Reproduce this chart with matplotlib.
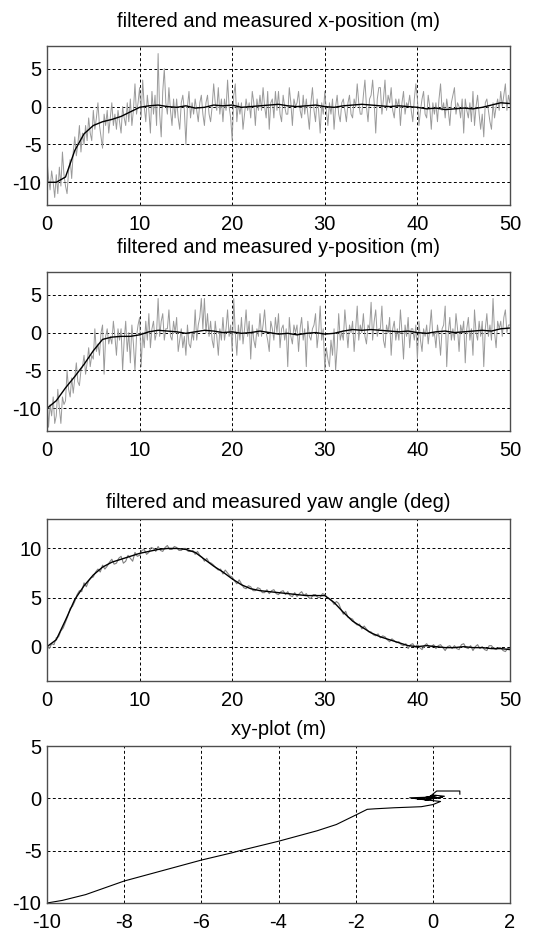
import numpy as np
import matplotlib
matplotlib.use('Agg')
import matplotlib.pyplot as plt

plt.rcParams['font.family'] = ['Liberation Sans', 'DejaVu Sans']
plt.rcParams['axes.unicode_minus'] = False

T_END = 50  # s

# measured x-position (m), 6 samples per second (one row = one second)
x_meas = [
    -7, -9.5, -11, -8.5, -10, -12,
    -9, -11.5, -8, -10.5, -6, -9,
    -10.5, -11.5, -8.5, -7, -9.5, -6,
    -4, -6.5, -5, -2.5, -6, -3.5,
    -5, -2.5, -4.5, -1.5, -3.5, -4.5,
    -0.5, -3, -1.5, 0.5, -2.5, -4,
    -5.5, -1, -2.5, -0.5, -3.5, -1.5,
    0.5, -2.5, -1, -3, -0.5, -2,
    -3.5, 0, -1.5, -2.5, 0.5, -2,
    1, -2.5, -0.5, 3, -1, 0.5,
    2.5, -1.5, 3.5, 0, -2, 1.5,
    -0.5, -3.5, 2, -1, 1.5, -2.5,
    7, -1, -4, 2, 5, 0.5,
    -1, 2.5, -0.5, -2.5, 1, -1.5,
    1, -1.5, -3, 0.5, 1.5, -0.5,
    -5, 0, 2, -1.5, 0.5, -1,
    1, -0.5, -2, 0.5, 1.5, -1,
    -2.5, 0.5, 1.5, -1, -2, 0,
    3, 0.5, -0.5, 2.5, -1, 1,
    -2, 1, -0.5, 3.5, 0, -1.5,
    -4.5, 1.5, 3, -2, 0.5, -1,
    0.5, -3, -1, 1, -0.5, 0.5,
    -1.5, 2, 0.5, -2.5, 1, -0.5,
    1.5, -0.5, 2.5, 0, -1.5, 2,
    -3, 0.5, 1, -1.5, 2, -0.5,
    2, -1, -2, 1.5, 0, -1,
    -1, 2.5, 0.5, -2.5, 1, 0,
    0.5, 2, -0.5, -1.5, 1.5, -1,
    1, -1, -3, 0.5, 2.5, -0.5,
    -2, 1, -0.5, -3.5, 0.5, -1,
    2, -0.5, -2.5, 0.5, -1, 1,
    -3, 0, 1.5, -1, -2, 0.5,
    1, -0.5, -2, 0.5, 1.5, -1,
    -1.5, 1, 0, 3, 0.5, -1,
    -1, 1.5, 3.5, 0, -2, 1,
    1.5, 3.5, 0.5, -3.5, 1, 2.5,
    2.5, -1, 1, 3.5, -0.5, 1.5,
    0.5, 2.5, -0.5, -1.5, 1, 0,
    1, -2.5, 0.5, 2, -1, 0.5,
    0, 1.5, -0.5, -2, 1, 3,
    1, -2.5, -0.5, 1, 2, -1,
    -1.5, 1.5, 0, -3, 0.5, -1,
    0.5, -2, 1, 3, -0.5, 0.5,
    -1.5, 1, -0.5, -2.5, 0.5, 1.5,
    2.5, -1, 0.5, 0, -1.5, 1,
    -3.5, 1, -0.5, -1.5, 0.5, -2,
    2, -2.5, 0, 1.5, -1, -3,
    -1, -4, 0.5, 1, -0.5, -2,
    -3, 0.5, -1.5, 0, 1, -0.5,
    2, 0, 1.5, 3, -0.5, 1.5,
    0.5,
]

# filtered x-position (m), 1 sample per second
x_filt = [
    -10, -10, -9.3, -5.8, -3.6, -2.5, -2.0, -1.7, -1.3, -0.7,
    -0.1, 0.1, 0.2, 0, -0.1, 0.1, -0.2, -0.1, 0.2, 0.1,
    0.2, -0.1, 0, 0.1, 0.2, 0.3, 0.1, 0, 0.1, 0.2,
    0, -0.1, 0.1, 0.2, 0.3, 0.2, 0.1, 0, 0.1, 0,
    -0.1, -0.3, -0.2, -0.4, -0.3, -0.2, -0.3, -0.1, 0.2, 0.5,
    0.4,
]

# measured y-position (m), 6 samples per second
y_meas = [
    -8, -12.5, -9.5, -11, -8.5, -12,
    -11, -7.5, -10, -12, -8.5, -9.5,
    -9, -5, -7.5, -8.5, -6, -8,
    -6, -4, -6.5, -7, -5, -4.5,
    -3, -5.5, -4, -2, -4.5, -3,
    -3.5, 0.5, -2.5, -1.5, -3, 0,
    1, -5.5, -0.5, 0.5, -1.5, -0.5,
    -1.5, 1.5, -0.5, -3, 0.5, -1,
    0.5, -5, -1, 1.5, -2.5, 0,
    -4, 1, -1.5, -5, -0.5, 1,
    2, -4.5, 0, -2, 1.5, -1,
    2.5, -2, 0.5, 1.5, -1, 0,
    4.5, -0.5, 1.5, 2.5, -1, 0.5,
    0.5, 3, -0.5, -1, 1.5, 0,
    2, -2.5, -1, 0.5, -2, -0.5,
    -3, 1, -1.5, -2, 0, -1,
    3, -1, 1, 2, 4.5, 0.5,
    4.5, 0, 2.5, -0.5, 1.5, -1,
    -2, 1.5, -0.5, -3, 0.5, -1,
    2, -1, 0.5, 3, -0.5, 1,
    -2.5, 4.5, 0, -3, 1, -1,
    2, -1.5, 0.5, 3, -0.5, 1.5,
    -3.5, 1, -1, -2, 0.5, -0.5,
    2.5, -0.5, 1, 3, 0, -1,
    -2.5, 1.5, 0.5, -1, 2, 0,
    2.5, -2, 0.5, 1, -1, 0.5,
    -4.5, 2, -0.5, -1.5, 1, 0,
    1, -2.5, 0.5, 2, -1, 0.5,
    -4.5, 1.5, -0.5, -1, 0.5, 1,
    2.5, -2, 0, 3.5, -1, 0.5,
    -5, -2, -3.5, -4.5, -1, -3,
    0.5, -5, -2, 2.5, -1, 0,
    -1, 3, 0.5, -2, 1, 0,
    1.5, -2.5, 0.5, 3.5, -1, 1,
    0, 2.5, -0.5, -1.5, 1, 0.5,
    4, -1, 1.5, 3, -0.5, 0.5,
    0.5, 3.5, -1, -2, 1, 0,
    2, -3, 0.5, 1.5, -1, 0.5,
    -1, 3, 0, -3.5, 1, -0.5,
    2, -2, 0.5, 0.5, -1, 1,
    -3.5, 1.5, -1, -2.5, 0.5, -0.5,
    1, -1.5, 0.5, 3, -0.5, 0,
    -2, 1, -0.5, -3, 0.5, 1,
    3.5, -4.5, 0, 2, -1, 0.5,
    -1, 2.5, 0.5, -2.5, 1, 0,
    1.5, -4, 0.5, 2, -1, 0.5,
    -3, 3, 0, -1, 1.5, -0.5,
    1.5, -4.5, 0.5, 2.5, -0.5, 1,
    -1, 4.5, 0, -2, 1.5, 0.5,
    1.5, -0.5, 2, 3, 0, 1,
    1,
]

# filtered y-position (m), 1 sample per second
y_filt = [
    -10, -9, -7.3, -5.8, -4.2, -2.4, -0.9, -0.6, -0.5, -0.5,
    -0.3, 0.1, 0.3, 0.2, 0.1, -0.1, 0.1, 0.3, 0.2, 0,
    0.1, -0.1, 0, 0.2, 0, -0.2, -0.1, -0.3, -0.1, 0,
    -0.2, -0.1, 0.2, 0.4, 0.3, 0.4, 0.3, 0.2, 0.1, 0.2,
    0, -0.1, 0.1, 0.2, 0, 0.1, 0.2, 0.3, 0.2, 0.5,
    0.6,
]

# measured yaw angle (deg), 4 samples per second
yaw_meas = [
    0.1, -0.2, 0.3, 0.2,   0.9, 1.0, 1.6, 1.9,   2.5, 3.1, 3.9, 4.1,
    4.6, 5.3, 5.7, 5.6,   6.5, 6.1, 6.7, 7.0,   7.1, 7.6, 7.9, 7.6,
    8.3, 7.9, 8.2, 8.6,   8.9, 8.4, 8.5, 9.0,   9.2, 8.5, 8.7, 9.3,
    9.0, 8.7, 9.6, 9.2,   9.3, 9.8, 9.9, 9.4,   9.6, 10.1, 10.0, 9.7,
    10.2, 9.8, 9.7, 10.1,   10.3, 9.9, 9.9, 10.2,   10.1, 9.8, 9.8, 10.0,
    10.0, 9.7, 9.7, 9.8,   9.4, 9.7, 9.3, 9.1,   8.7, 9.0, 8.6, 8.5,
    8.3, 8.0, 7.8, 7.9,   7.4, 7.8, 7.5, 7.2,   7.1, 6.7, 6.4, 6.8,
    6.4, 6.0, 5.9, 6.2,   6.1, 5.7, 5.7, 6.0,   5.9, 5.5, 5.5, 5.8,
    5.4, 5.7, 5.8, 5.4,   5.3, 5.6, 5.7, 5.3,   5.6, 5.2, 5.1, 5.5,
    5.1, 5.4, 5.6, 5.2,   5.4, 5.0, 4.9, 5.3,   5.3, 5.0, 5.0, 5.4,
    5.3, 5.0, 4.9, 4.7,   4.3, 4.6, 4.4, 3.8,   3.3, 3.6, 3.0, 2.9,
    2.8, 2.4, 2.2, 2.3,   1.8, 2.1, 1.8, 1.5,   1.5, 1.2, 1.1, 1.3,
    0.9, 1.1, 1.0, 0.7,   0.5, 0.8, 0.6, 0.4,   0.5, 0.2, 0.1, 0.3,
    -0.2, 0.2, 0.3, -0.1,   0.2, -0.1, -0.3, 0.1,   0.3, 0.0, 0.0, 0.2,
    -0.2, 0.1, 0.2, -0.1,   -0.4, 0.0, 0.1, -0.2,   0.1, -0.2, -0.3, 0.2,
    0.3, -0.1, -0.2, 0.1,   -0.4, 0.0, 0.2, -0.2,   0.0, -0.3, -0.4, 0.1,
    0.1, -0.2, -0.3, -0.1,   -0.1, -0.4, -0.5, -0.2,
    -0.2,
]

# filtered yaw angle (deg), 1 sample per second
yaw_filt = [
    0, 0.7, 2.7, 4.8, 6.2, 7.3, 8.1, 8.6, 8.9, 9.2,
    9.5, 9.7, 9.9, 10.0, 10.0, 9.9, 9.6, 8.9, 8.2, 7.6,
    6.9, 6.3, 5.9, 5.7, 5.6, 5.5, 5.4, 5.3, 5.2, 5.2,
    5.2, 4.5, 3.5, 2.6, 2.0, 1.4, 1.0, 0.7, 0.4, 0.1,
    0.0, 0.1, 0.0, -0.1, -0.1, 0.0, -0.1, -0.1, -0.2, -0.2,
    -0.3,
]

# xy-plot path (m)
xy_x = [-10, -9.6, -9, -8, -7, -6, -5.2, -5, -4, -3, -2.5, -2, -1.7, -1.5,
        -1.0, -0.3, 0, 0.2, -0.3, -0.6, -0.2, 0.1, -0.1, 0.25, -0.4, 0.05,
        0.3, -0.2, 0.0, 0.1, 0.7, 0.7]
xy_y = [-10, -9.75, -9.2, -7.9, -6.9, -5.9, -5.2, -5.0, -4.1, -3.1, -2.5, -1.6,
        -1.05, -1.0, -0.9, -0.8, -0.6, -0.3, -0.1, 0.05, 0.1, 0.25, 0.0, 0.1,
        -0.1, 0.3, 0.2, -0.2, 0.4, 0.7, 0.7, 0.4]

t_xy_meas = np.linspace(0, T_END, len(x_meas))
t_filt = np.linspace(0, T_END, len(x_filt))
t_yaw = np.linspace(0, T_END, len(yaw_meas))

MEAS_C = '#9a9a9a'
FS = 14.5

fig = plt.figure(figsize=(5.56, 9.36), dpi=100)
W = 463 / 556
ax1 = fig.add_axes([47 / 556, 1 - 205 / 936, W, 159 / 936])
ax2 = fig.add_axes([47 / 556, 1 - 431 / 936, W, 159 / 936])
ax3 = fig.add_axes([47 / 556, 1 - 681 / 936, W, 162 / 936])
ax4 = fig.add_axes([47 / 556, 1 - 903 / 936, W, 157 / 936])


def style(ax):
    ax.grid(True, color='black', linestyle=(0, (3, 2.5)), linewidth=0.7)
    for s in ax.spines.values():
        s.set_color('#4d4d4d')
        s.set_linewidth(1.0)
    ax.tick_params(length=0, labelsize=FS)
    ax.tick_params(axis='x', pad=7)
    ax.tick_params(axis='y', pad=4)


ax1.plot(t_xy_meas, x_meas, color=MEAS_C, lw=0.7)
ax1.plot(t_filt, x_filt, color='black', lw=1.0)
ax1.set_xlim(0, 50)
ax1.set_ylim(-13, 8)
ax1.set_yticks([-10, -5, 0, 5])
ax1.set_title('filtered and measured x-position (m)', fontsize=FS, pad=14)
style(ax1)

ax2.plot(t_xy_meas, y_meas, color=MEAS_C, lw=0.7)
ax2.plot(t_filt, y_filt, color='black', lw=1.0)
ax2.set_xlim(0, 50)
ax2.set_ylim(-13, 8)
ax2.set_yticks([-10, -5, 0, 5])
ax2.set_title('filtered and measured y-position (m)', fontsize=FS, pad=13.5)
style(ax2)

ax3.plot(t_yaw, yaw_meas, color='#808080', lw=0.8)
ax3.plot(t_filt, yaw_filt, color='black', lw=1.0)
ax3.set_xlim(0, 50)
ax3.set_ylim(-3.5, 13)
ax3.set_yticks([0, 5, 10])
ax3.set_title('filtered and measured yaw angle (deg)', fontsize=FS, pad=8)
style(ax3)

ax4.plot(xy_x, xy_y, color='black', lw=0.8)
ax4.set_xlim(-10, 2)
ax4.set_ylim(-10, 5)
ax4.set_xticks([-10, -8, -6, -4, -2, 0, 2])
ax4.set_yticks([-10, -5, 0, 5])
ax4.set_title('xy-plot (m)', fontsize=FS, pad=8)
style(ax4)

for ax in (ax1, ax2, ax3):
    ax.set_xticks([0, 10, 20, 30, 40, 50])

fig.savefig('out.png', dpi=100)
